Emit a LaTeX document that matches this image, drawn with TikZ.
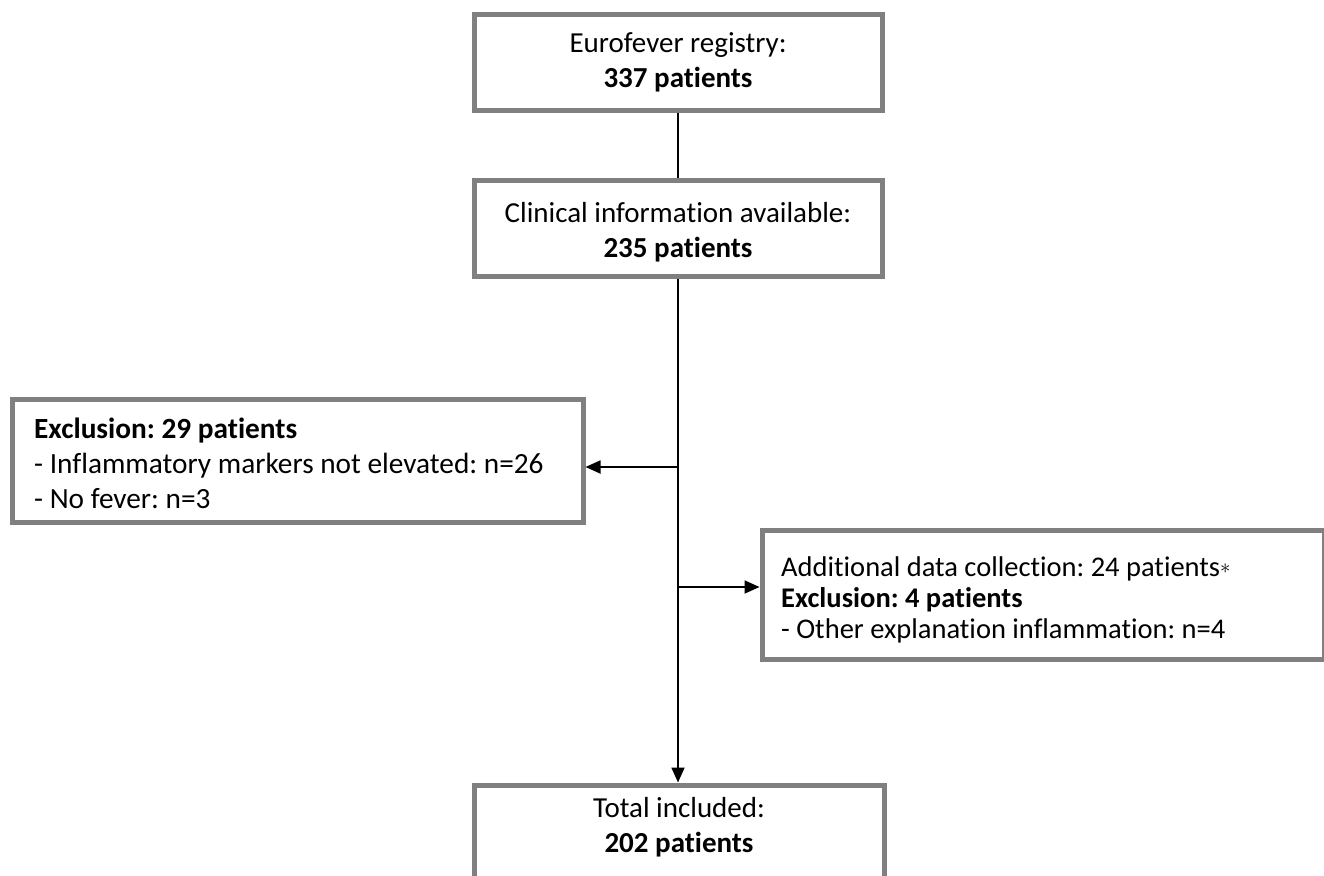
\documentclass[tikz,border=0pt]{standalone}
\usepackage{fontspec}
\setmainfont[Ligatures=NoCommon]{Carlito}
\usetikzlibrary{arrows.meta}
\definecolor{boxgray}{RGB}{128,128,128}
\newcommand{\firststrut}{\rule{0pt}{25pt}}
\begin{document}
\frenchspacing
\begin{tikzpicture}[x=1pt,y=-1pt,
  framebox/.style={draw=boxgray, line width=5pt, fill=white, inner sep=0pt},
  ctext/.style={inner sep=0pt, anchor=north, align=center, font=\fontsize{29}{35}\selectfont},
  ltext/.style={inner sep=0pt, anchor=north west, align=left, font=\fontsize{29.3}{35}\selectfont},
  rtext/.style={inner sep=0pt, anchor=north west, align=left, font=\fontsize{28.5}{31}\selectfont},
  link/.style={draw=black, line width=1.8pt},
  arrowlink/.style={link, -{Triangle[length=15pt,width=13pt]}}]
\useasboundingbox (0,0) rectangle (1324,875);
\clip (0,0) rectangle (1324,875);

% boxes
\node[framebox, minimum width=408pt, minimum height=95.5pt, anchor=north] (reg) at (678,12.5) {};
\node[framebox, minimum width=408pt, minimum height=95.5pt, anchor=north] (clin) at (678,178) {};
\node[framebox, minimum width=570.5pt, minimum height=123.5pt, anchor=north west] (excl) at (10,396.5) {};
\node[framebox, minimum width=562pt, minimum height=129pt, anchor=north west] (addl) at (759.5,528) {};
\node[framebox, minimum width=410pt, minimum height=140pt, anchor=north] (total) at (679,782.5) {};

% texts
\node[ctext] (regtext) at (678,52-25) {\firststrut Eurofever registry:\\\textbf{337 patients}};
\node[ctext] (clintext) at (678,222-25) {\firststrut Clinical information available:\\\textbf{235 patients}};
\node[ltext] (excltext) at (34,438-25)
  {\firststrut\textbf{Exclusion: 29 patients}\\- Inflammatory markers not elevated: n=26\\- No fever: n=3};
\node[rtext] (addltext) at (781,576-25)
  {\firststrut Additional data collection: 24 patients\raisebox{3pt}{\fontsize{21}{21}\selectfont$\ast$}\\\textbf{Exclusion: 4 patients}\\- Other explanation inflammation: n=4};
\node[ctext] (totaltext) at (679,817-25) {\firststrut Total included:\\\textbf{202 patients}};

% connectors
\coordinate (jl) at (678,467);
\coordinate (jr) at (678,587);
\draw[link] (reg.south) -- (clin.north);
\draw[arrowlink] (clin.south) -- (clin.south |- total.north);
\draw[arrowlink] (jl) -- (jl -| excl.east);
\draw[arrowlink] (jr) -- (jr -| addl.west);
\end{tikzpicture}
\end{document}
